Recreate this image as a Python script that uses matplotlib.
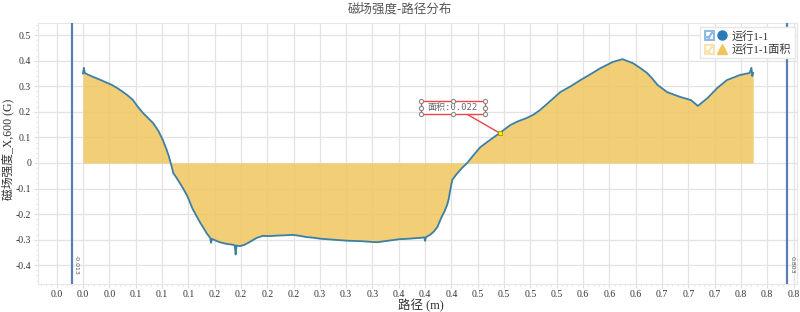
import math
import numpy as np
import matplotlib
matplotlib.use('Agg')
import matplotlib.pyplot as plt
from matplotlib.lines import Line2D
from matplotlib.patches import Rectangle
from matplotlib.legend_handler import HandlerTuple
from matplotlib.ticker import MultipleLocator

plt.rcParams['font.family'] = ['Liberation Serif', 'Noto Sans CJK SC', 'DejaVu Sans']

# path (m) and field strength (G)
path_m = [0.000, 0.001, 0.002, 0.006, 0.012, 0.019, 0.027, 0.033, 0.039, 0.045,
          0.051, 0.057, 0.062, 0.068, 0.074, 0.080, 0.086, 0.091, 0.095, 0.098,
          0.100, 0.103, 0.107, 0.111, 0.115, 0.119, 0.122, 0.125, 0.129, 0.133,
          0.137, 0.141, 0.145, 0.146, 0.147, 0.151, 0.156, 0.163, 0.171, 0.173,
          0.174, 0.175, 0.179, 0.184, 0.188, 0.193, 0.198, 0.205, 0.213, 0.221,
          0.230, 0.239, 0.247, 0.255, 0.262, 0.270, 0.285, 0.301, 0.318, 0.335,
          0.348, 0.361, 0.372, 0.384, 0.389, 0.390, 0.391, 0.396, 0.400, 0.404,
          0.409, 0.412, 0.415, 0.417, 0.418, 0.421, 0.426, 0.432, 0.438, 0.445,
          0.453, 0.464, 0.475, 0.487, 0.496, 0.506, 0.514, 0.521, 0.532, 0.544,
          0.556, 0.567, 0.579, 0.590, 0.604, 0.615, 0.627, 0.635, 0.643, 0.649,
          0.655, 0.666, 0.681, 0.693, 0.701, 0.712, 0.723, 0.734, 0.749, 0.760,
          0.762, 0.763, 0.764]
field_g = [0.350, 0.372, 0.352, 0.345, 0.336, 0.326, 0.314, 0.305, 0.293, 0.279,
           0.264, 0.246, 0.222, 0.197, 0.176, 0.156, 0.125, 0.090, 0.055, 0.025,
           0.000, -0.040, -0.060, -0.082, -0.105, -0.130, -0.155, -0.180, -0.205, -0.230,
           -0.252, -0.275, -0.293, -0.312, -0.297, -0.303, -0.310, -0.316, -0.320, -0.322,
           -0.358, -0.323, -0.325, -0.320, -0.313, -0.303, -0.293, -0.285, -0.286, -0.284,
           -0.283, -0.281, -0.285, -0.290, -0.292, -0.296, -0.300, -0.304, -0.306, -0.310,
           -0.304, -0.298, -0.296, -0.293, -0.291, -0.305, -0.290, -0.280, -0.268, -0.250,
           -0.210, -0.190, -0.165, -0.140, -0.118, -0.066, -0.043, -0.020, 0.000, 0.030,
           0.062, 0.090, 0.117, 0.148, 0.163, 0.176, 0.190, 0.207, 0.240, 0.277,
           0.300, 0.324, 0.348, 0.371, 0.395, 0.406, 0.390, 0.372, 0.352, 0.330,
           0.305, 0.277, 0.258, 0.246, 0.223, 0.254, 0.293, 0.324, 0.344, 0.352,
           0.372, 0.340, 0.352]

marker_left = -0.013
marker_right = 0.803
area_value = 0.022
area_point = (0.475, 0.117)

xtick_pos = [round(-0.03 + 0.03 * k, 2) for k in range(29)]
xtick_lab = ['%.1f' % (math.floor(abs(v) * 10 + 0.5 + 1e-9) / 10) for v in xtick_pos]
ytick_pos = [-0.4, -0.3, -0.2, -0.1, 0, 0.1, 0.2, 0.3, 0.4, 0.5]
ytick_lab = ['-0.4', '-0.3', '-0.2', '-0.1', '0', '0.1', '0.2', '0.3', '0.4', '0.5']

line_col = '#3b7fa6'
fill_col = '#f0c75e'
grid_col = '#e3e3e3'

fig = plt.figure(figsize=(8, 3.12), dpi=100)
ax = fig.add_axes([0.0475, 0.09, 0.9488, 0.836])

x = np.array(path_m)
y = np.array(field_g)
ax.fill_between(x, 0, y, color=fill_col, alpha=0.85, linewidth=0, zorder=2)
ax.plot(x, y, color=line_col, lw=1.3, zorder=3)

ax.axvline(marker_left, color='#5a7db3', lw=1.6, zorder=4)
ax.axvline(marker_right, color='#5a7db3', lw=1.6, zorder=4)
ax.text(marker_left + 0.0025, -0.40, '%.3f' % marker_left, rotation=-90, fontsize=4.5,
        color='#555555', ha='left', va='center', family='DejaVu Sans')
ax.text(marker_right + 0.0025, -0.40, '%.3f' % marker_right, rotation=-90, fontsize=4.5,
        color='#555555', ha='left', va='center', family='DejaVu Sans')

# area annotation box
bx0, bx1, by0, by1 = 0.385, 0.458, 0.190, 0.242
ax.add_patch(Rectangle((bx0, by0), bx1 - bx0, by1 - by0, facecolor='white',
                       edgecolor='#ee4444', lw=1.0, zorder=6))
ax.text((bx0 + bx1) / 2, (by0 + by1) / 2 + 0.002, '面积:%.3f' % area_value, fontsize=6.5,
        color='#666666', ha='center', va='center', zorder=7,
        family=['DejaVu Sans Mono', 'Noto Sans CJK SC'])
hx = [bx0, (bx0 + bx1) / 2, bx1, bx0, bx1, bx0, (bx0 + bx1) / 2, bx1]
hy = [by1, by1, by1, (by0 + by1) / 2, (by0 + by1) / 2, by0, by0, by0]
ax.plot(hx, hy, 'o', ms=3.0, mfc='white', mec='#888888', mew=0.8, ls='none', zorder=8)
ax.plot([0.438, area_point[0]], [by0, area_point[1]], color='#ee4444', lw=1.0, zorder=5)
ax.plot([area_point[0]], [area_point[1]], 's', ms=3, mfc='#ffee00', mec='#888800',
        mew=0.5, zorder=8)

ax.set_xlim(-0.0513, 0.814)
ax.set_ylim(-0.473, 0.547)
ax.set_xticks(xtick_pos)
ax.set_xticklabels(xtick_lab)
ax.set_yticks(ytick_pos)
ax.set_yticklabels(ytick_lab)
ax.yaxis.set_minor_locator(MultipleLocator(0.02))
ax.xaxis.set_minor_locator(MultipleLocator(0.006))
ax.tick_params(axis='both', which='major', labelsize=7, colors='#dddddd',
               labelcolor='#333333', length=3, width=0.8, pad=2)
ax.tick_params(axis='x', which='major', pad=1.5)
ax.tick_params(axis='both', which='minor', colors='#e0e0e0', length=1.5, width=0.6)
ax.grid(True, which='major', color=grid_col, lw=0.9, zorder=0)
ax.set_axisbelow(True)
for s in ax.spines.values():
    s.set_color('#e6e6e6')
    s.set_linewidth(0.8)

fig.text(0.526, 0.019, '路径 (m)', ha='center', va='center', fontsize=9, color='#333333')
fig.text(0.0095, 0.52, '磁场强度_X,600 (G)', ha='center', va='center', fontsize=8.5,
         color='#333333', rotation=90)
fig.text(0.5, 0.972, '磁场强度-路径分布', ha='center', va='center', fontsize=9,
         color='#555555', family=['Noto Sans CJK SC', 'DejaVu Sans'])

# legend with checkbox glyphs
chk1 = Line2D([], [], ls='none', marker='$\u2611$', ms=7, color='#8dbbe3')
dot = Line2D([], [], ls='none', marker='o', ms=6.5, color='#2a7ab8')
chk2 = Line2D([], [], ls='none', marker='$\u2611$', ms=7, color='#f7e3b0')
tri = Line2D([], [], ls='none', marker='^', ms=7.5, color='#efc55a')
leg = ax.legend([(chk1, dot), (chk2, tri)], ['运行1-1', '运行1-1面积'],
                handler_map={tuple: HandlerTuple(ndivide=None, pad=0.25)},
                loc='upper right', bbox_to_anchor=(1.0, 0.995),
                handlelength=2.1, handletextpad=0.4, borderpad=0.35, labelspacing=0.2,
                borderaxespad=0.2, fancybox=False, framealpha=1, edgecolor='#e6e6e6',
                prop={'family': ['Liberation Serif', 'Noto Sans CJK SC'], 'size': 8})
for t in leg.get_texts():
    t.set_color('#333333')
leg.set_zorder(10)

fig.savefig('out.png', dpi=100)
